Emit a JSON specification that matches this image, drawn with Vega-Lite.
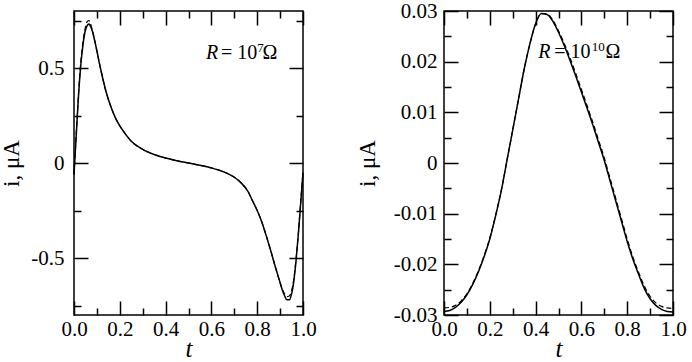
{
  "$schema": "https://vega.github.io/schema/vega-lite/v6.json",
  "padding": {"left": 0, "top": -1, "right": 5, "bottom": 0},
  "spacing": 38,
  "config": {
    "view": {"stroke": "#000", "strokeWidth": 1.5},
    "axis": {
      "domain": false, "tickSize": 0, "tickColor": "#000",
      "grid": true, "gridColor": "#000", "gridOpacity": 1, "gridWidth": 1.5,
      "labelFont": "Liberation Serif", "labelFontSize": 21, "labelColor": "#000",
      "labelOverlap": false, "labelBound": false, "labelFlush": false,
      "titleFont": "Liberation Serif", "titleFontWeight": "normal", "titleColor": "#000"
    },
    "text": {"font": "Liberation Serif", "color": "#000"}
  },
  "datasets": {
    "left": [
      {"s":"a","t":0,"i":-0.06},{"s":"a","t":0.01,"i":0.15},{"s":"a","t":0.02,"i":0.36},{"s":"a","t":0.03,"i":0.52},{"s":"a","t":0.04,"i":0.63},{"s":"a","t":0.05,"i":0.70},{"s":"a","t":0.06,"i":0.728},{"s":"a","t":0.065,"i":0.732},{"s":"a","t":0.07,"i":0.725},{"s":"a","t":0.08,"i":0.695},{"s":"a","t":0.09,"i":0.645},{"s":"a","t":0.10,"i":0.59},{"s":"a","t":0.11,"i":0.53},{"s":"a","t":0.12,"i":0.475},{"s":"a","t":0.14,"i":0.375},{"s":"a","t":0.16,"i":0.30},{"s":"a","t":0.18,"i":0.24},{"s":"a","t":0.20,"i":0.195},{"s":"a","t":0.22,"i":0.16},{"s":"a","t":0.25,"i":0.115},{"s":"a","t":0.30,"i":0.072},{"s":"a","t":0.35,"i":0.045},{"s":"a","t":0.40,"i":0.026},{"s":"a","t":0.45,"i":0.012},{"s":"a","t":0.50,"i":0.0},{"s":"a","t":0.55,"i":-0.012},{"s":"a","t":0.60,"i":-0.026},{"s":"a","t":0.65,"i":-0.045},{"s":"a","t":0.70,"i":-0.075},{"s":"a","t":0.73,"i":-0.105},{"s":"a","t":0.76,"i":-0.15},{"s":"a","t":0.78,"i":-0.2},{"s":"a","t":0.80,"i":-0.25},{"s":"a","t":0.82,"i":-0.31},{"s":"a","t":0.84,"i":-0.385},{"s":"a","t":0.86,"i":-0.465},{"s":"a","t":0.88,"i":-0.55},{"s":"a","t":0.90,"i":-0.63},{"s":"a","t":0.91,"i":-0.67},{"s":"a","t":0.92,"i":-0.70},{"s":"a","t":0.93,"i":-0.72},{"s":"a","t":0.94,"i":-0.72},{"s":"a","t":0.95,"i":-0.69},{"s":"a","t":0.96,"i":-0.62},{"s":"a","t":0.97,"i":-0.51},{"s":"a","t":0.98,"i":-0.37},{"s":"a","t":0.99,"i":-0.21},{"s":"a","t":1.0,"i":-0.05},
      {"s":"b","t":0,"i":-0.06},{"s":"b","t":0.01,"i":0.16},{"s":"b","t":0.02,"i":0.37},{"s":"b","t":0.03,"i":0.535},{"s":"b","t":0.04,"i":0.645},{"s":"b","t":0.05,"i":0.715},{"s":"b","t":0.06,"i":0.748},{"s":"b","t":0.065,"i":0.75},{"s":"b","t":0.07,"i":0.74},{"s":"b","t":0.08,"i":0.70},{"s":"b","t":0.09,"i":0.648},{"s":"b","t":0.10,"i":0.59},{"s":"b","t":0.11,"i":0.53},{"s":"b","t":0.12,"i":0.475},{"s":"b","t":0.14,"i":0.375},{"s":"b","t":0.16,"i":0.30},{"s":"b","t":0.18,"i":0.24},{"s":"b","t":0.20,"i":0.195},{"s":"b","t":0.22,"i":0.16},{"s":"b","t":0.25,"i":0.115},{"s":"b","t":0.30,"i":0.072},{"s":"b","t":0.35,"i":0.045},{"s":"b","t":0.40,"i":0.026},{"s":"b","t":0.45,"i":0.012},{"s":"b","t":0.50,"i":0.0},{"s":"b","t":0.55,"i":-0.012},{"s":"b","t":0.60,"i":-0.026},{"s":"b","t":0.65,"i":-0.045},{"s":"b","t":0.70,"i":-0.075},{"s":"b","t":0.73,"i":-0.105},{"s":"b","t":0.76,"i":-0.15},{"s":"b","t":0.78,"i":-0.2},{"s":"b","t":0.80,"i":-0.25},{"s":"b","t":0.82,"i":-0.31},{"s":"b","t":0.84,"i":-0.385},{"s":"b","t":0.86,"i":-0.465},{"s":"b","t":0.88,"i":-0.55},{"s":"b","t":0.90,"i":-0.63},{"s":"b","t":0.91,"i":-0.665},{"s":"b","t":0.92,"i":-0.69},{"s":"b","t":0.93,"i":-0.703},{"s":"b","t":0.94,"i":-0.70},{"s":"b","t":0.95,"i":-0.672},{"s":"b","t":0.96,"i":-0.61},{"s":"b","t":0.97,"i":-0.50},{"s":"b","t":0.98,"i":-0.365},{"s":"b","t":0.99,"i":-0.205},{"s":"b","t":1.0,"i":-0.05}
    ],
    "right": [
      {"s":"a","t":0,"i":-0.0293},{"s":"a","t":0.025,"i":-0.0291},{"s":"a","t":0.05,"i":-0.0285},{"s":"a","t":0.075,"i":-0.0275},{"s":"a","t":0.1,"i":-0.026},{"s":"a","t":0.125,"i":-0.024},{"s":"a","t":0.15,"i":-0.0215},{"s":"a","t":0.175,"i":-0.0185},{"s":"a","t":0.2,"i":-0.015},{"s":"a","t":0.225,"i":-0.0105},{"s":"a","t":0.25,"i":-0.0055},{"s":"a","t":0.275,"i":0.0005},{"s":"a","t":0.3,"i":0.0065},{"s":"a","t":0.325,"i":0.0125},{"s":"a","t":0.35,"i":0.0185},{"s":"a","t":0.375,"i":0.0235},{"s":"a","t":0.4,"i":0.0275},{"s":"a","t":0.425,"i":0.0295},{"s":"a","t":0.45,"i":0.0293},{"s":"a","t":0.475,"i":0.028},{"s":"a","t":0.5,"i":0.0258},{"s":"a","t":0.525,"i":0.0232},{"s":"a","t":0.55,"i":0.0203},{"s":"a","t":0.575,"i":0.0172},{"s":"a","t":0.6,"i":0.014},{"s":"a","t":0.625,"i":0.0108},{"s":"a","t":0.65,"i":0.0075},{"s":"a","t":0.675,"i":0.004},{"s":"a","t":0.7,"i":0.0005},{"s":"a","t":0.725,"i":-0.0035},{"s":"a","t":0.75,"i":-0.0075},{"s":"a","t":0.775,"i":-0.0115},{"s":"a","t":0.8,"i":-0.0155},{"s":"a","t":0.825,"i":-0.019},{"s":"a","t":0.85,"i":-0.022},{"s":"a","t":0.875,"i":-0.0248},{"s":"a","t":0.9,"i":-0.0268},{"s":"a","t":0.925,"i":-0.0281},{"s":"a","t":0.95,"i":-0.0289},{"s":"a","t":0.975,"i":-0.0293},{"s":"a","t":1.0,"i":-0.0294},
      {"s":"b","t":0,"i":-0.0286},{"s":"b","t":0.025,"i":-0.0285},{"s":"b","t":0.05,"i":-0.0281},{"s":"b","t":0.075,"i":-0.0272},{"s":"b","t":0.1,"i":-0.0258},{"s":"b","t":0.125,"i":-0.0238},{"s":"b","t":0.15,"i":-0.0213},{"s":"b","t":0.175,"i":-0.0183},{"s":"b","t":0.2,"i":-0.0148},{"s":"b","t":0.225,"i":-0.0104},{"s":"b","t":0.25,"i":-0.0054},{"s":"b","t":0.275,"i":0.0005},{"s":"b","t":0.3,"i":0.0065},{"s":"b","t":0.325,"i":0.0125},{"s":"b","t":0.35,"i":0.0185},{"s":"b","t":0.375,"i":0.0235},{"s":"b","t":0.4,"i":0.0275},{"s":"b","t":0.425,"i":0.0295},{"s":"b","t":0.45,"i":0.0294},{"s":"b","t":0.475,"i":0.0282},{"s":"b","t":0.5,"i":0.0261},{"s":"b","t":0.525,"i":0.0236},{"s":"b","t":0.55,"i":0.0208},{"s":"b","t":0.575,"i":0.0177},{"s":"b","t":0.6,"i":0.0145},{"s":"b","t":0.625,"i":0.0113},{"s":"b","t":0.65,"i":0.008},{"s":"b","t":0.675,"i":0.0045},{"s":"b","t":0.7,"i":0.001},{"s":"b","t":0.725,"i":-0.003},{"s":"b","t":0.75,"i":-0.007},{"s":"b","t":0.775,"i":-0.011},{"s":"b","t":0.8,"i":-0.015},{"s":"b","t":0.825,"i":-0.0186},{"s":"b","t":0.85,"i":-0.0216},{"s":"b","t":0.875,"i":-0.0243},{"s":"b","t":0.9,"i":-0.0263},{"s":"b","t":0.925,"i":-0.0276},{"s":"b","t":0.95,"i":-0.0283},{"s":"b","t":0.975,"i":-0.0286},{"s":"b","t":1.0,"i":-0.0287}
    ],
    "annL": [
      {"k":"it","t":0.576,"i":0.55,"txt":"R"},
      {"k":"n","t":0.642,"i":0.55,"txt":"= 10"},
      {"k":"sup","t":0.80,"i":0.586,"txt":"7"},
      {"k":"n","t":0.823,"i":0.55,"txt":"Ω"}
    ],
    "annR": [
      {"k":"it","t":0.412,"i":0.0207,"txt":"R"},
      {"k":"n","t":0.4817,"i":0.0207,"txt":"= 10"},
      {"k":"sup","t":0.645,"i":0.0221,"txt":"10"},
      {"k":"n","t":0.705,"i":0.0207,"txt":"Ω"}
    ]
  },
  "hconcat": [
    {
      "width": 229, "height": 304,
      "resolve": {"axis": {"x": "independent", "y": "independent"}},
      "layer": [
        {
          "data": {"name": "left"},
          "transform": [{"filter": "datum.s == 'a'"}],
          "mark": {"type": "line", "color": "#000", "strokeWidth": 1.5, "interpolate": "monotone"},
          "encoding": {
            "x": {"field": "t", "type": "quantitative", "scale": {"domain": [0, 1], "nice": false},
              "axis": {"orient": "bottom", "values": [0,0.1,0.2,0.3,0.4,0.5,0.6,0.7,0.8,0.9,1.0],
                "gridDash": {"condition": {"test": "round(datum.value*10)%2==0", "value": [14, 276]}, "value": [7, 290]},
                "labelExpr": "round(datum.value*10)%2==0 ? format(datum.value,'.1f') : ''",
                "labelPadding": 3, "title": "t", "titleFontStyle": "italic", "titleFontSize": 25, "titlePadding": -3}},
            "y": {"field": "i", "type": "quantitative", "scale": {"domain": [-0.8, 0.8], "nice": false, "zero": false},
              "axis": {"orient": "left", "values": [-0.75,-0.5,-0.25,0,0.25,0.5,0.75],
                "gridDash": {"condition": {"test": "abs(datum.value)==0.5 || datum.value==0", "value": [14, 201]}, "value": [7, 215]},
                "labelExpr": "(abs(datum.value)==0.5 || datum.value==0) ? toString(datum.value) : ''",
                "labelPadding": 10, "title": "i, μA", "titleFontSize": 23, "titlePadding": 7}}
          }
        },
        {
          "data": {"name": "left"},
          "transform": [{"filter": "datum.s == 'b'"}],
          "mark": {"type": "line", "color": "#000", "strokeWidth": 1.2, "strokeDash": [5, 3], "interpolate": "monotone"},
          "encoding": {
            "x": {"field": "t", "type": "quantitative", "axis": null},
            "y": {"field": "i", "type": "quantitative", "axis": null}
          }
        },
        {
          "data": {"name": "annL"},
          "transform": [{"filter": "datum.k == 'it'"}],
          "mark": {"type": "text", "align": "left", "baseline": "alphabetic", "fontSize": 20, "fontStyle": "italic"},
          "encoding": {"x": {"field": "t", "type": "quantitative", "axis": null}, "y": {"field": "i", "type": "quantitative", "axis": null}, "text": {"field": "txt"}}
        },
        {
          "data": {"name": "annL"},
          "transform": [{"filter": "datum.k == 'n'"}],
          "mark": {"type": "text", "align": "left", "baseline": "alphabetic", "fontSize": 20},
          "encoding": {"x": {"field": "t", "type": "quantitative", "axis": null}, "y": {"field": "i", "type": "quantitative", "axis": null}, "text": {"field": "txt"}}
        },
        {
          "data": {"name": "annL"},
          "transform": [{"filter": "datum.k == 'sup'"}],
          "mark": {"type": "text", "align": "left", "baseline": "alphabetic", "fontSize": 13},
          "encoding": {"x": {"field": "t", "type": "quantitative", "axis": null}, "y": {"field": "i", "type": "quantitative", "axis": null}, "text": {"field": "txt"}}
        }
      ]
    },
    {
      "width": 229, "height": 304,
      "resolve": {"axis": {"x": "independent", "y": "independent"}},
      "layer": [
        {
          "data": {"name": "right"},
          "transform": [{"filter": "datum.s == 'a'"}],
          "mark": {"type": "line", "color": "#000", "strokeWidth": 1.5, "interpolate": "monotone"},
          "encoding": {
            "x": {"field": "t", "type": "quantitative", "scale": {"domain": [0, 1], "nice": false},
              "axis": {"orient": "bottom", "values": [0,0.1,0.2,0.3,0.4,0.5,0.6,0.7,0.8,0.9,1.0],
                "gridDash": {"condition": {"test": "round(datum.value*10)%2==0", "value": [14, 276]}, "value": [7, 290]},
                "labelExpr": "round(datum.value*10)%2==0 ? format(datum.value,'.1f') : ''",
                "labelPadding": 3, "title": "t", "titleFontStyle": "italic", "titleFontSize": 25, "titlePadding": -3}},
            "y": {"field": "i", "type": "quantitative", "scale": {"domain": [-0.03, 0.03], "nice": false, "zero": false},
              "axis": {"orient": "left", "values": [-0.03,-0.025,-0.02,-0.015,-0.01,-0.005,0,0.005,0.01,0.015,0.02,0.025,0.03],
                "gridDash": {"condition": {"test": "abs(round(datum.value*1000))%10==0", "value": [14, 201]}, "value": [7, 215]},
                "labelExpr": "abs(round(datum.value*1000))%10==0 ? toString(datum.value) : ''",
                "labelPadding": 7, "title": "i, μA", "titleFontSize": 23, "titlePadding": 14}}
          }
        },
        {
          "data": {"name": "right"},
          "transform": [{"filter": "datum.s == 'b'"}],
          "mark": {"type": "line", "color": "#000", "strokeWidth": 1.2, "strokeDash": [5, 3], "interpolate": "monotone"},
          "encoding": {
            "x": {"field": "t", "type": "quantitative", "axis": null},
            "y": {"field": "i", "type": "quantitative", "axis": null}
          }
        },
        {
          "data": {"name": "annR"},
          "transform": [{"filter": "datum.k == 'it'"}],
          "mark": {"type": "text", "align": "left", "baseline": "alphabetic", "fontSize": 20, "fontStyle": "italic"},
          "encoding": {"x": {"field": "t", "type": "quantitative", "axis": null}, "y": {"field": "i", "type": "quantitative", "axis": null}, "text": {"field": "txt"}}
        },
        {
          "data": {"name": "annR"},
          "transform": [{"filter": "datum.k == 'n'"}],
          "mark": {"type": "text", "align": "left", "baseline": "alphabetic", "fontSize": 20},
          "encoding": {"x": {"field": "t", "type": "quantitative", "axis": null}, "y": {"field": "i", "type": "quantitative", "axis": null}, "text": {"field": "txt"}}
        },
        {
          "data": {"name": "annR"},
          "transform": [{"filter": "datum.k == 'sup'"}],
          "mark": {"type": "text", "align": "left", "baseline": "alphabetic", "fontSize": 13},
          "encoding": {"x": {"field": "t", "type": "quantitative", "axis": null}, "y": {"field": "i", "type": "quantitative", "axis": null}, "text": {"field": "txt"}}
        }
      ]
    }
  ]
}
